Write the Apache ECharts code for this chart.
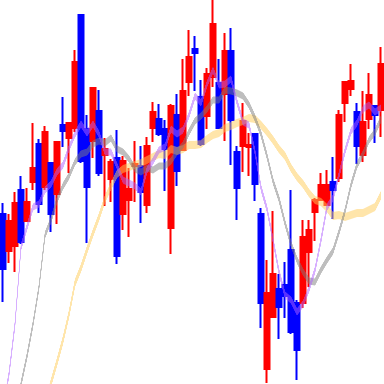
<!DOCTYPE html>
<html>
<head>
<meta charset="utf-8">
<script src="https://cdn.jsdelivr.net/npm/echarts/dist/echarts.min.js"></script>
<style>
html,body{margin:0;padding:0;background:#fff;overflow:hidden}
#wrap{position:relative;width:384px;height:384px;overflow:hidden;background:#fff}
#k{position:absolute;left:0;top:0;width:384px;height:384px}
#m{position:absolute;left:0;top:0;width:3072px;height:384px;transform:scaleX(0.125);transform-origin:0 0;pointer-events:none}
</style>
</head>
<body>
<div id="wrap"><div id="k"></div><div id="m"></div></div>
<script>
const categories = ['1','2','3','4','5','6','7','8','9','10','11','12','13','14','15','16','17','18','19','20','21','22','23','24','25','26','27','28','29','30','31','32','33','34','35','36','37','38','39','40','41','42','43','44','45','46','47','48','49','50','51','52','53','54','55','56','57','58','59','60','61','62','63','64'];

const opens  = [170,133,138,194,163,202,240,197,221,190,259,246,256,369,255,243,273,229,205,226,170,184,218,218,179,256,265,255,156,269,234,302,335,287,268,307,301,290,333,232,238,237,250,170,15,67,95,99,134,81,81,132,172,184,179,202,206,281,295,272,229,265,278,274];
const closes = [115,163,181,142,182,216,180,252,170,242,253,261,322,223,197,296,211,235,222,128,223,195,220,192,238,272,250,235,278,213,293,327,331,240,310,360,256,333,264,196,263,239,200,81,91,110,77,88,52,34,147,154,184,199,199,194,269,302,303,238,262,289,269,320];
const lows   = [82,121,112,140,163,194,171,194,152,160,237,211,252,221,141,226,208,178,182,120,154,147,182,161,171,242,248,193,130,198,233,288,293,238,255,297,255,243,219,164,212,208,183,56,1,67,45,66,50,4,76,97,143,184,179,165,202,262,288,220,222,255,241,247];
const highs  = [181,170,192,208,196,261,245,258,221,243,287,261,334,370,269,297,294,246,225,254,228,216,243,238,247,282,280,264,280,290,325,354,348,304,316,384,325,351,356,238,281,251,250,176,124,173,110,122,194,84,164,164,186,211,214,227,274,302,320,281,293,311,278,337];

const ma5  = [-25,10,60,137,157,177,180,194,200,212,219,236,250,260,251,260,250,232,232,218,204,201,198,192,214,223,234,237,255,250,254,269,288,281,300,314,299,300,305,282,262,259,232,196,175,144,112,89,84,72,80,95,114,144,177,186,209,233,253,261,275,279,272,276];
const ma10 = [-120,-80,-40,0,28,60,97,149,164,184,198,208,222,230,232,240,243,241,246,235,232,225,215,212,216,214,218,218,223,232,239,252,263,268,275,284,284,294,293,291,288,279,266,250,228,203,185,161,140,124,112,103,102,114,124,133,152,173,199,219,230,244,252,265];
const ma20 = [-200,-175,-150,-125,-100,-75,-45,-20,1,22,44,70,101,116,134,151,167,185,198,210,215,217,219,221,224,227,230,229,235,233,235,239,239,240,245,249,251,256,258,261,263,266,265,259,252,244,235,228,216,207,200,191,184,182,176,168,169,167,169,171,171,174,177,189];

const candleData = opens.map((o, i) => [o, closes[i], lows[i], highs[i]]);

const gridCfg = {left: 0, right: 0, top: 0, bottom: 0};
function xAxisCfg() {
  return {type: 'category', data: categories, boundaryGap: true, show: false,
          axisLine: {show: false}, axisTick: {show: false}, axisLabel: {show: false}, splitLine: {show: false}};
}
function yAxisCfg() {
  return {type: 'value', min: 0, max: 384, show: false,
          axisLine: {show: false}, axisTick: {show: false}, axisLabel: {show: false}, splitLine: {show: false}};
}

const kChart = echarts.init(document.getElementById('k'), null, {renderer: 'canvas'});
kChart.setOption({
  animation: false,
  grid: gridCfg,
  xAxis: xAxisCfg(),
  yAxis: yAxisCfg(),
  series: [{
    type: 'candlestick',
    data: candleData,
    barWidth: 5,
    silent: true,
    itemStyle: {color: '#ff0000', color0: '#0000ff', borderColor: '#ff0000', borderColor0: '#0000ff', borderWidth: 2}
  }]
});

const mChart = echarts.init(document.getElementById('m'), null, {renderer: 'canvas'});
function maSeries(data, color, width, opacity) {
  return {type: 'line', data: data, symbol: 'none', smooth: false, silent: true,
          lineStyle: {color: color, width: width, opacity: opacity}};
}
mChart.setOption({
  animation: false,
  grid: gridCfg,
  xAxis: xAxisCfg(),
  yAxis: yAxisCfg(),
  series: [
    maSeries(ma20, '#ffcc55', 8, 0.5),
    maSeries(ma10, '#7d7d7d', 7, 0.5),
    maSeries(ma5, '#b060ff', 7, 0.5)
  ]
});
</script>
</body>
</html>
